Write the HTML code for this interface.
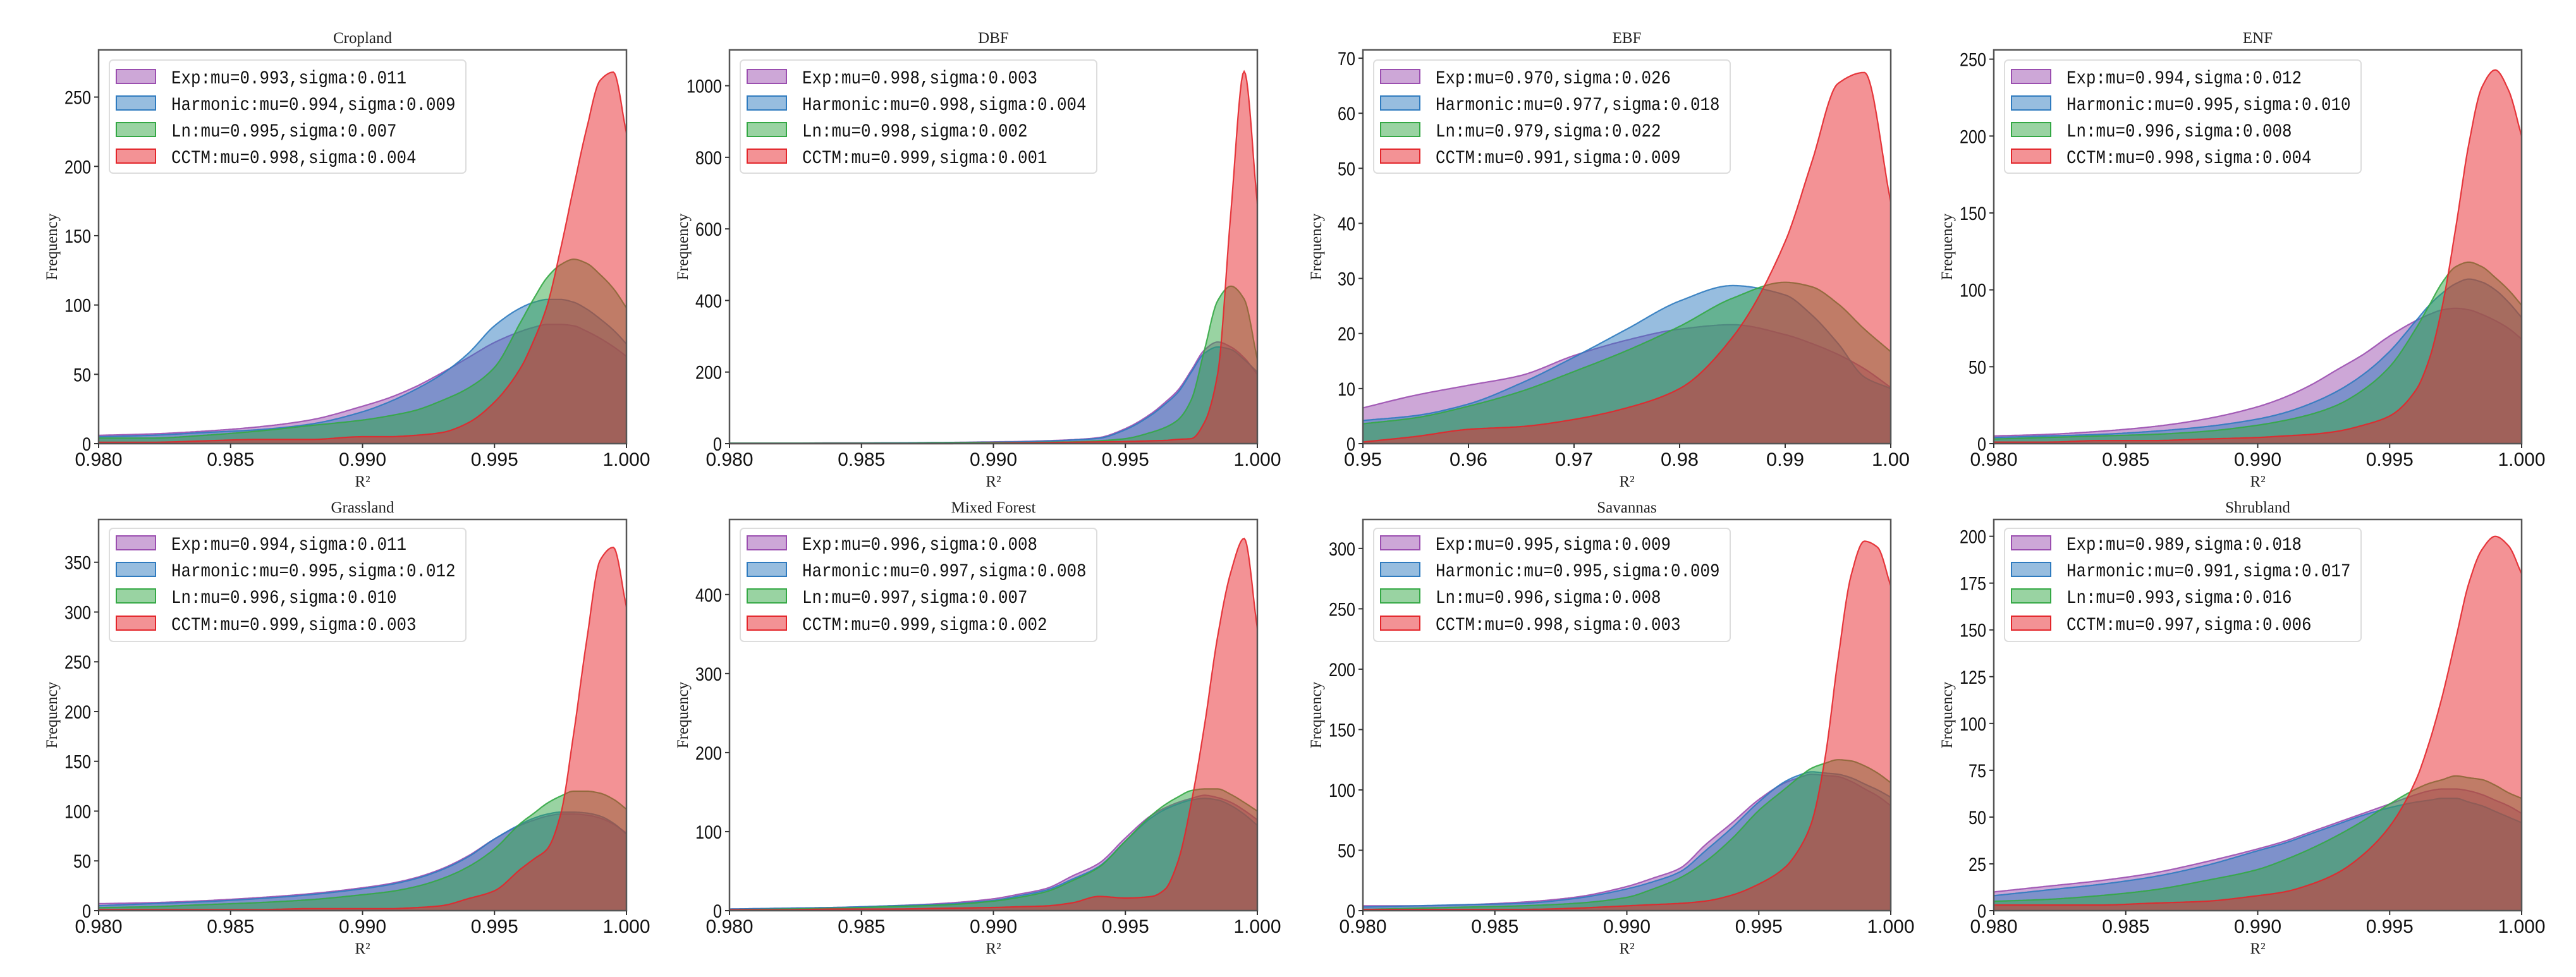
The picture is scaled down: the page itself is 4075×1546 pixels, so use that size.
<!DOCTYPE html>
<html><head><meta charset="utf-8">
<style>
html,body{margin:0;padding:0;background:#fff;}
svg{display:block;}
.tick{font-family:"Liberation Sans",sans-serif;font-size:30px;fill:#111;}
.leg{font-family:"Liberation Mono","Noto Sans CJK SC",monospace;font-size:30px;fill:#111;}
.ser{font-family:"Liberation Serif",serif;fill:#222;}
</style></head>
<body>
<svg id="chart" width="4075" height="1546" viewBox="0 0 4075 1546" xmlns="http://www.w3.org/2000/svg"></svg>
<script>
// ---- data ----
const xsFine = [0.980,0.982,0.984,0.986,0.988,0.990,0.991,0.992,0.993,0.994,0.995,0.996,0.9965,0.997,0.9975,0.998,0.9985,0.999,0.9995,1.000];
const xsEBF = [0.950,0.955,0.960,0.965,0.970,0.975,0.980,0.985,0.990,0.9925,0.995,0.9975,1.000];
const panelTitles = ["Cropland","DBF","EBF","ENF","Grassland","Mixed Forest","Savannas","Shrubland"];
const seriesNames = ["Exp","Harmonic","Ln","CCTM"];
const legendTexts = [
 ["Exp:mu=0.993,sigma:0.011","Harmonic:mu=0.994,sigma:0.009","Ln:mu=0.995,sigma:0.007","CCTM:mu=0.998,sigma:0.004"],
 ["Exp:mu=0.998,sigma:0.003","Harmonic:mu=0.998,sigma:0.004","Ln:mu=0.998,sigma:0.002","CCTM:mu=0.999,sigma:0.001"],
 ["Exp:mu=0.970,sigma:0.026","Harmonic:mu=0.977,sigma:0.018","Ln:mu=0.979,sigma:0.022","CCTM:mu=0.991,sigma:0.009"],
 ["Exp:mu=0.994,sigma:0.012","Harmonic:mu=0.995,sigma:0.010","Ln:mu=0.996,sigma:0.008","CCTM:mu=0.998,sigma:0.004"],
 ["Exp:mu=0.994,sigma:0.011","Harmonic:mu=0.995,sigma:0.012","Ln:mu=0.996,sigma:0.010","CCTM:mu=0.999,sigma:0.003"],
 ["Exp:mu=0.996,sigma:0.008","Harmonic:mu=0.997,sigma:0.008","Ln:mu=0.997,sigma:0.007","CCTM:mu=0.999,sigma:0.002"],
 ["Exp:mu=0.995,sigma:0.009","Harmonic:mu=0.995,sigma:0.009","Ln:mu=0.996,sigma:0.008","CCTM:mu=0.998,sigma:0.003"],
 ["Exp:mu=0.989,sigma:0.018","Harmonic:mu=0.991,sigma:0.017","Ln:mu=0.993,sigma:0.016","CCTM:mu=0.997,sigma:0.006"]
];
const yMaxes = [284,1100,71.5,256,393,495,324,209];
const yTicks = [
 [0,50,100,150,200,250],[0,200,400,600,800,1000],[0,10,20,30,40,50,60,70],[0,50,100,150,200,250],
 [0,50,100,150,200,250,300,350],[0,100,200,300,400],[0,50,100,150,200,250,300],[0,25,50,75,100,125,150,175,200]
];
const xTicksStd = [0.980,0.985,0.990,0.995,1.000];
const xTickLabelsStd = ["0.980","0.985","0.990","0.995","1.000"];
const xTicksEBF = [0.95,0.96,0.97,0.98,0.99,1.00];
const xTickLabelsEBF = ["0.95","0.96","0.97","0.98","0.99","1.00"];

// Cropland
const cropExp  = [6,7,9,12,17,27,33,41,51,62,73,81,84,86,86,85,81,76,70,63];
const cropHarm = [5,6,8,10,14,23,30,39,50,65,85,98,102,104,104,102,97,90,82,72];
const cropLn   = [4,4,6,9,13,17,20,24,31,40,55,88,105,120,129,133,130,122,112,98];
const cropCCTM = [1,1,2,3,3,5,5,6,8,15,30,55,75,100,140,185,228,262,268,224];
// DBF
const dbfExp  = [1,1,2,2,3,5,6,8,11,17,42,85,115,150,205,262,284,270,240,193];
const dbfHarm = [1,1,1,2,3,4,5,7,10,15,39,81,110,144,200,253,270,263,235,200];
const dbfLn   = [1,1,1,1,2,3,3,4,5,8,14,32,45,67,123,263,400,440,404,235];
const dbfCCTM = [0,0,0,0,0,1,2,3,4,5,6,8,9,12,14,60,197,650,1040,670];
// EBF
const ebfExp  = [6.5,8.8,10.6,12.4,16,18.8,20.8,21.6,19.8,18.2,16.2,13.6,10.2];
const ebfHarm = [4.2,5.1,7.2,11,15.7,20.8,25.9,28.7,27,23.4,18.2,12.1,10];
const ebfLn   = [3.6,4.7,6.8,9.5,13.1,16.9,21.3,26.4,29.3,28.5,25.4,20.8,16.7];
const ebfCCTM = [0.3,1.3,2.6,3.1,4.4,6.5,10,19.3,36.7,51,65.4,67.4,43.9];
// ENF
const enfExp  = [5,6,8,11,16,24,30,38,48,58,70,80,84,87,88,87,84,80,75,68];
const enfHarm = [4,5,6,8,11,16,20,26,34,45,60,80,90,98,104,107,105,100,92,82];
const enfLn   = [3,4,5,6,8,12,15,19,25,35,50,75,90,105,115,118,115,108,100,90];
const enfCCTM = [1,1,2,2,3,4,5,6,8,12,18,35,55,90,140,195,232,243,230,200];
// Grassland
const grsExp  = [7,8,10,13,17,23,27,33,42,55,72,86,91,95,97,97,96,93,87,78];
const grsHarm = [5,7,9,12,16,22,26,32,41,54,72,87,93,97,99,99,98,95,88,77];
const grsLn   = [3,4,6,8,11,16,19,24,32,44,62,88,98,108,115,120,120,118,112,102];
const grsCCTM = [1,1,1,1,2,2,2,3,5,12,20,42,52,62,96,178,273,352,365,305];
// Mixed Forest
const mixExp  = [2,3,4,6,9,15,21,28,44,60,92,121,130,137,142,146,143,137,127,115];
const mixHarm = [2,3,4,6,8,13,19,26,40,56,88,118,128,135,140,142,140,133,122,108];
const mixLn   = [1,2,3,5,7,12,17,24,38,55,88,121,134,144,152,154,154,147,137,126];
const mixCCTM = [1,1,2,2,3,4,5,6,10,18,16,18,27,63,137,235,348,429,471,357];
// Savannas
const savExp  = [4,4,5,7,11,20,27,35,55,73,92,106,110,113,112,111,107,101,95,87];
const savHarm = [3,4,5,6,10,18,24,32,50,69,90,107,112,115,114,113,110,105,100,94];
const savLn   = [1,2,3,4,6,11,18,27,41,60,83,101,110,118,122,125,124,120,114,106];
const savCCTM = [1,1,1,1,2,4,5,6,8,13,22,36,50,73,125,208,278,306,301,269];
// Shrubland
const shrExp  = [10,13,16,20,26,33,37,42,47,52,57,62,64,65,65,64,62,59,56,52];
const shrHarm = [8,11,14,18,24,32,36,41,46,51,55,58,59,60,60,58,56,53,50,47];
const shrLn   = [5,6,8,11,16,22,27,33,40,48,57,65,68,70,72,71,70,67,63,60];
const shrCCTM = [3,3,3,4,5,8,10,14,20,30,45,70,90,115,145,175,193,200,195,180];

const panelSeries = [
 [cropExp,cropHarm,cropLn,cropCCTM],[dbfExp,dbfHarm,dbfLn,dbfCCTM],[ebfExp,ebfHarm,ebfLn,ebfCCTM],[enfExp,enfHarm,enfLn,enfCCTM],
 [grsExp,grsHarm,grsLn,grsCCTM],[mixExp,mixHarm,mixLn,mixCCTM],[savExp,savHarm,savLn,savCCTM],[shrExp,shrHarm,shrLn,shrCCTM]
];

// ---- layout / style ----
const NS = "http://www.w3.org/2000/svg";
const svg = document.getElementById("chart");
const colLefts = [156,1154,2156,3154];
const plotW = 835;
const rowTops = [79,822], rowBottoms = [702,1441];
const strokeCols = ["#9b4fb0","#2f7bbf","#34a845","#e3262b"];
const fillCols = ["#9b4fb0","#2f7bbf","#34a845","#e8262b"];

function mk(tag, attrs, parent){
  const e = document.createElementNS(NS, tag);
  for (const k in attrs) e.setAttribute(k, attrs[k]);
  (parent||svg).appendChild(e);
  return e;
}

function monotone(xs, ys){
  const n = xs.length, d = [], m = new Array(n);
  for (let i=0;i<n-1;i++) d.push((ys[i+1]-ys[i])/(xs[i+1]-xs[i]));
  m[0]=d[0]; m[n-1]=d[n-2];
  for (let i=1;i<n-1;i++){
    if (d[i-1]*d[i] <= 0) m[i]=0;
    else { const w1=2*(xs[i+1]-xs[i])+(xs[i]-xs[i-1]), w2=(xs[i+1]-xs[i])+2*(xs[i]-xs[i-1]);
      m[i]=(w1+w2)/(w1/d[i-1]+w2/d[i]); }
  }
  return function(x){
    let i=0; while(i<n-2 && x>xs[i+1]) i++;
    const h=xs[i+1]-xs[i], t=(x-xs[i])/h;
    const h00=2*t*t*t-3*t*t+1,h10=t*t*t-2*t*t+t,h01=-2*t*t*t+3*t*t,h11=t*t*t-t*t;
    return h00*ys[i]+h10*h*m[i]+h01*ys[i+1]+h11*h*m[i+1];
  };
}

for (let p=0;p<8;p++){
  const row = Math.floor(p/4), col = p%4;
  const L = colLefts[col], R = L+plotW, T = rowTops[row], B = rowBottoms[row];
  const isEBF = p===2;
  const xs = isEBF ? xsEBF : xsFine;
  const x0 = isEBF?0.95:0.98, x1 = 1.0;
  const ymax = yMaxes[p];
  const X = v => L + (v-x0)/(x1-x0)*plotW;
  const Y = v => B - v/ymax*(B-T);

  const g = mk("g",{});
  
  

  panelSeries[p].forEach((vals, si)=>{
    const f = monotone(xs, vals);
    let d = "", steps = 400;
    for (let k=0;k<=steps;k++){
      const xv = x0 + (x1-x0)*k/steps;
      const yv = Math.max(0, f(xv));
      d += (k?"L":"M") + X(xv).toFixed(1) + "," + Y(yv).toFixed(1);
    }
    const area = mk("path",{d: d+"L"+R+","+B+"L"+L+","+B+"Z", fill: fillCols[si], "fill-opacity":0.5, stroke:"none"}, g);
    
    
    const line = mk("path",{d: d, fill:"none", stroke: strokeCols[si], "stroke-width":2.2, "stroke-opacity":0.9}, g);
    
    
  });

  const fr = mk("rect",{x:L,y:T,width:plotW,height:B-T,fill:"none",stroke:"#555","stroke-width":2.5},g);
  
  

  const xt = isEBF ? xTicksEBF : xTicksStd, xl = isEBF ? xTickLabelsEBF : xTickLabelsStd;
  xt.forEach((v,i)=>{
    mk("line",{x1:X(v),x2:X(v),y1:B,y2:B+7,stroke:"#333","stroke-width":2},g);
    const t = mk("text",{x:X(v),y:B+35,"text-anchor":"middle",class:"tick",textLength:xl[i].length*15,lengthAdjust:"spacingAndGlyphs"},g);
    t.textContent = xl[i];
    
    
  });
  yTicks[p].forEach(v=>{
    mk("line",{x1:L-7,x2:L,y1:Y(v),y2:Y(v),stroke:"#333","stroke-width":2},g);
    const s = String(v);
    const t = mk("text",{x:L-12,y:Y(v)+11,"text-anchor":"end",class:"tick",textLength:s.length*14,lengthAdjust:"spacingAndGlyphs"},g);
    t.textContent = s;
    
    
  });

  const tt = mk("text",{x:L+plotW/2,y:T-11,"text-anchor":"middle",class:"ser","font-size":25},g);
  tt.textContent = panelTitles[p];
  
  
  const xlab = mk("text",{x:L+plotW/2,y:B+68,"text-anchor":"middle",class:"ser","font-size":25},g);
  xlab.textContent = "R²";
  
  
  const yc = (T+B)/2, yx = L-74;
  const ylab = mk("text",{x:yx,y:yc,"text-anchor":"middle",class:"ser","font-size":25,transform:"rotate(-90 "+yx+" "+yc+")",dy:8},g);
  ylab.textContent = "Frequency";
  
  

  const lt = T + (row===0?16:14);
  const lg = mk("g",{},g);
  
  
  mk("rect",{x:L+17,y:lt,width:564,height:179,rx:6,fill:"#fff","fill-opacity":0.85,stroke:"#ddd","stroke-width":2},lg);
  const off = row===0?[26,68,110,152]:[23,65,107,150];
  legendTexts[p].forEach((s,si)=>{
    const cy = lt + off[si];
    const h = mk("rect",{x:L+28,y:cy-11,width:62,height:22,fill:fillCols[si],"fill-opacity":0.5,stroke:strokeCols[si],"stroke-width":2},lg);
    
    
    const t = mk("text",{x:L+115,y:cy+11,class:"leg",textLength:s.length*15.5,lengthAdjust:"spacingAndGlyphs"},lg);
    t.textContent = s;
    
    
  });
}
</script>
</body></html>
